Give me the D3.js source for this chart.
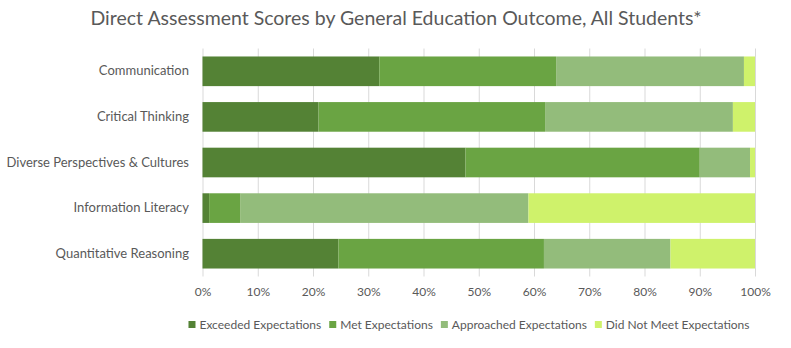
<!DOCTYPE html>
<html><head><meta charset="utf-8">
<script src="https://cdn.jsdelivr.net/npm/d3@7"></script>
<style>
body{margin:0;background:#fff;}
text{font-family:Lato,"Open Sans",sans-serif;fill:#595959;}
</style></head>
<body>
<svg id="chart" width="791" height="348"></svg>
<script>
const title = "Direct Assessment Scores by General Education Outcome, All Students*";
const categories = ["Communication","Critical Thinking","Diverse Perspectives & Cultures","Information Literacy","Quantitative Reasoning"];
const seriesNames = ["Exceeded Expectations","Met Expectations","Approached Expectations","Did Not Meet Expectations"];
const exceeded = [32, 21, 47.6, 1.2, 24.6];
const met = [32, 41, 42.4, 5.7, 37.2];
const approached = [34, 34, 9.1, 52.1, 22.9];
const didNotMeet = [2, 4, 0.9, 41, 15.3];
const tickValues = [0,10,20,30,40,50,60,70,80,90,100];
const colors = ["#548235","#6AA443","#93BC7B","#CFF26B"];

const series = [exceeded, met, approached, didNotMeet];
const rows = categories.map((c,i)=>{const r={cat:c}; seriesNames.forEach((s,j)=>r[s]=series[j][i]); return r;});
const stacked = d3.stack().keys(seriesNames)(rows);

const svg = d3.select("#chart");
const x = d3.scaleLinear().domain([0,100]).range([202.5,755]);
const y = d3.scaleBand().domain(categories).range([48.5,276.5]).paddingInner(0.35).paddingOuter(0.175);

// gridlines
svg.append("g").selectAll("line").data(tickValues).join("line")
  .attr("x1",d=>x(d)+0.5).attr("x2",d=>x(d)+0.5)
  .attr("y1",48.5).attr("y2",276.5)
  .attr("stroke","#d9d9d9").attr("stroke-width",1);

// bars
svg.append("g").selectAll("g").data(stacked).join("g")
  .attr("fill",(d,i)=>colors[i])
  .selectAll("rect").data(d=>d).join("rect")
  .attr("x",d=>x(d[0])).attr("width",d=>x(d[1])-x(d[0]))
  .attr("y",d=>y(d.data.cat)).attr("height",y.bandwidth());

// x axis labels
const xAxis = d3.axisBottom(x).tickValues(tickValues).tickFormat(d=>d+"%").tickSize(0).tickPadding(0);
const gx = svg.append("g").attr("transform","translate(0,287)").call(xAxis);
gx.select(".domain").remove();
gx.selectAll("text").attr("dy","0.32em").attr("y",4.7).style("font-size","12px").style("fill","#595959");

// y axis labels
const yAxis = d3.axisLeft(y).tickSize(0).tickPadding(0);
const gy = svg.append("g").attr("transform","translate(189,0)").call(yAxis);
gy.select(".domain").remove();
gy.selectAll("text").style("font-size","13px").style("fill","#595959");

// title
svg.append("text").attr("x",396).attr("y",25).attr("text-anchor","middle")
  .style("font-size","19px").attr("textLength",611).attr("lengthAdjust","spacingAndGlyphs").text(title);

// legend
const lg = svg.append("g");
let cx = 0;
seriesNames.forEach((s,i)=>{
  const g = lg.append("g").attr("transform",`translate(${cx},0)`);
  g.append("rect").attr("x",0).attr("y",-3.5).attr("width",7).attr("height",7).attr("fill",colors[i]);
  const t = g.append("text").attr("x",11).attr("y",0).attr("dy","0.35em").style("font-size","12px").text(s);
  cx += 11 + t.node().getComputedTextLength() + 8;
});
const totalW = cx - 8;
lg.attr("transform",`translate(${469 - totalW/2},324.5)`);
</script>
</body></html>
